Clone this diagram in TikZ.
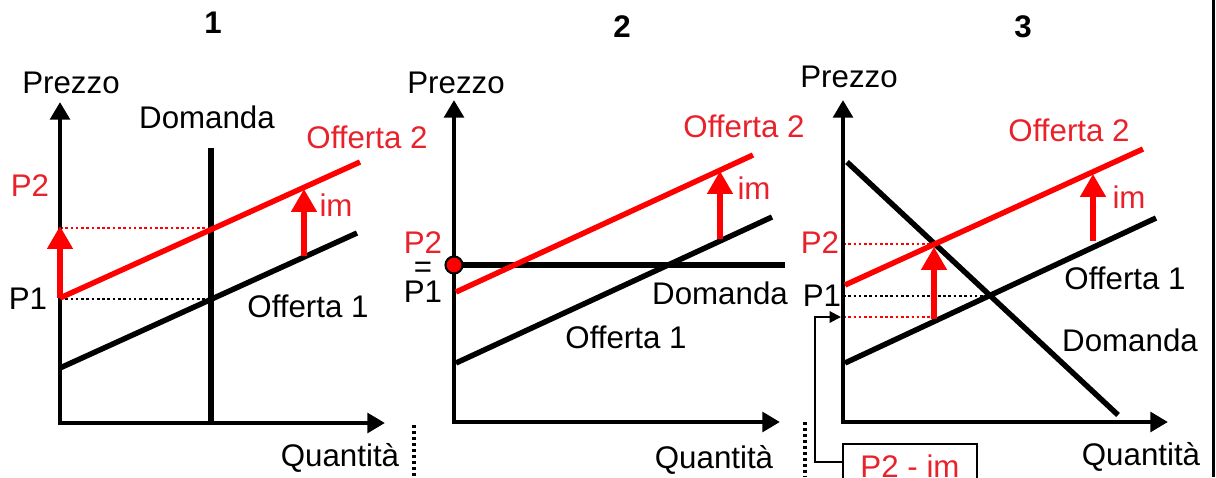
\documentclass[tikz,border=0pt]{standalone}
\usepackage{fontspec}
\setmainfont{Liberation Sans}
\usepackage{tikz}
\usetikzlibrary{arrows.meta,positioning,calc}
\definecolor{ShiftRed}{HTML}{FF0000}
\definecolor{LabelRed}{HTML}{E8212B}

\begin{document}
\begin{tikzpicture}[x=0.02cm,y=-0.02cm,
		every node/.style={font=\fontsize{17.8}{20}\selectfont,inner sep=1pt},
		axis/.style={line width=2.7pt,{Triangle[width=11pt,length=10pt]}-{Triangle[width=11pt,length=10pt]}},
		curve/.style={line width=3.1pt},
		taxarrow/.style={line width=3.1pt,ShiftRed,-{Triangle[width=14pt,length=13pt]}},
		guide/.style={line width=1.5pt,dash pattern=on 1.5pt off 1.5pt},
		sep/.style={line width=2.1pt,dash pattern=on 1.7pt off 1.7pt},
		title/.style={font=\fontsize{17.8}{20}\selectfont\bfseries}]
		\clip (0,0) rectangle (1216,477);
		\draw[line width=1.5pt] (1213.5,0) -- (1213.5,477);

		% 1: domanda rigida
		\coordinate (O1) at (60,423);
		\draw[guide,ShiftRed] (60,228) -- (211,228);
		\draw[guide] (60,299) -- (211,299);
		\draw[curve] (211,148) -- (211,423);
		\draw[axis] (60,102) -- (O1) -- (385,423);
		\draw[curve] (60,368) -- (357,233);
		\draw[curve,ShiftRed] (60,298) -- (360,162);
		\draw[taxarrow] (60,298) -- (60,226);
		\draw[taxarrow] (304,256) -- (304,189);
		\node[title] (t1) at (213,23) {1};
		\node (prezzo1) at (71,83) {Prezzo};
		\node (dom1) at (207,117) {Domanda};
		\node[LabelRed] (off21) at (367,137) {Offerta 2};
		\node (off11) at (308,306) {Offerta 1};
		\node[LabelRed] (im1) at (336,205) {im};
		\node[LabelRed] (p21) at (30,186) {P2};
		\node (p11) at (28,299) {P1};
		\node (q1) at (340,458) {Quantità};
		\draw[sep] (414,425) -- (414,477);

		% 2: domanda perfettamente elastica
		\coordinate (O2) at (454,422);
		\draw[curve] (454,265) -- (785,265);
		\draw[axis] (454,100) -- (O2) -- (780,422);
		\draw[curve] (456,363) -- (772,217);
		\draw[curve,ShiftRed] (456,292) -- (753,155);
		\draw[taxarrow] (720,239) -- (720,171);
		\node[circle,draw=black,fill=ShiftRed,line width=1.2pt,minimum size=0.34cm,inner sep=0pt] (eq2) at (454,265) {};
		\node[title] (t2) at (622,27) {2};
		\node (prezzo2) at (456,83) {Prezzo};
		\node[LabelRed] (off22) at (744,126) {Offerta 2};
		\node (off12) at (626,337) {Offerta 1};
		\node (dom2) at (720,293) {Domanda};
		\node[LabelRed] (im2) at (754,188) {im};
		\node[align=center,font=\fontsize{17.8}{14}\selectfont,inner sep=0pt] (p1p22) at (423,267) {\textcolor{LabelRed}{P2}\\=\\P1};
		\node (q2) at (714,460) {Quantità};
		\draw[sep] (805,422) -- (805,477);

		% 3: domanda inclinata
		\coordinate (O3) at (843,422);
		\coordinate (A3) at (841,317);
		\draw[guide,ShiftRed] (843,244) -- (933,244);
		\draw[guide] (843,296) -- (988,296);
		\draw[guide,ShiftRed] (843,317) -- (935,317);
		\draw[axis] (843,100) -- (O3) -- (1168,422);
		\draw[curve] (847,162) -- (1118,415);
		\draw[curve] (845,363) -- (1156,218);
		\draw[curve,ShiftRed] (845,285) -- (1143,149);
		\draw[taxarrow] (934,319) -- (934,247);
		\draw[taxarrow] (1093,241) -- (1093,174);
		\node[title] (t3) at (1023,27) {3};
		\node (prezzo3) at (849,77) {Prezzo};
		\node[LabelRed] (off23) at (1069,130) {Offerta 2};
		\node (off13) at (1125,278) {Offerta 1};
		\node (dom3) at (1130,340) {Domanda};
		\node[LabelRed] (im3) at (1129,197) {im};
		\node[LabelRed] (p23) at (820,243) {P2};
		\node (p13) at (822,296) {P1};
		\node (q3) at (1141,457) {Quantità};
		\node[draw=black,line width=1.2pt,text=LabelRed,minimum width=2.68cm,minimum height=0.88cm] (pim) at (910,466) {P2 - im};
		\draw[line width=1.2pt,-{Triangle[width=6.5pt,length=6.5pt]}] ($(pim.west)+(0,-4)$) -- ++(-27,0) |- (A3);
	\end{tikzpicture}
\end{document}
